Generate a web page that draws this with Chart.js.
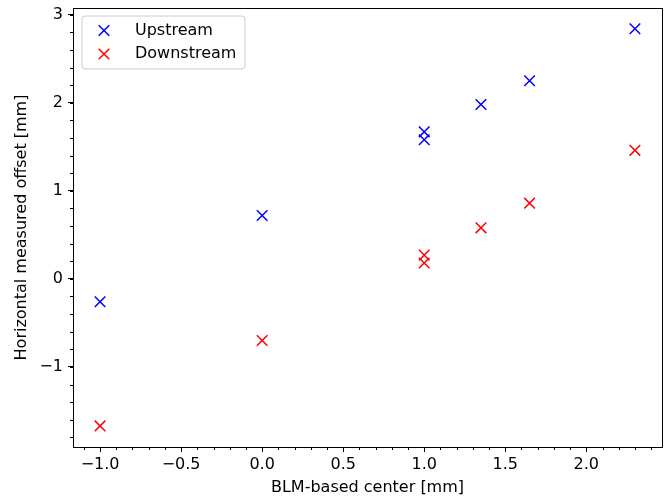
<!DOCTYPE html>
<html>
<head>
<meta charset="utf-8">
<script src="https://cdn.jsdelivr.net/npm/chart.js@4/dist/chart.umd.min.js"></script>
<style>
html,body{margin:0;padding:0;background:#fff;}
#wrap{width:664px;height:498px;position:relative;}
</style>
</head>
<body>
<div id="wrap"><canvas id="c" width="664" height="498"></canvas></div>
<script>
// Data
const blmCenter = [-1.0, 0.0, 1.0, 1.0, 1.35, 1.65, 2.3];
const upstream = [-0.26, 0.72, 1.67, 1.58, 1.98, 2.25, 2.84];
const downstream = [-1.67, -0.70, 0.27, 0.18, 0.58, 0.86, 1.46];
const seriesLabels = ['Upstream', 'Downstream'];
const xTicks = [-1.0, -0.5, 0.0, 0.5, 1.0, 1.5, 2.0];
const yTicks = [-1, 0, 1, 2, 3];
const xMinorStep = 0.1;
const yMinorStep = 0.2;
const xTitle = 'BLM-based center [mm]';
const yTitle = 'Horizontal measured offset [mm]';

const FONT = 'DejaVu Sans';
const FS = 16;
const fmt = (v, d) => { const s = Math.abs(v).toFixed(d); return (v < -1e-9 ? '\u2212' : '') + s; };
const pts = (ys) => blmCenter.map((x, i) => ({x: x, y: ys[i]}));

const frameAndMinor = {
  id: 'frameAndMinor',
  afterDraw(chart) {
    const {ctx, chartArea: a, scales: {x, y}} = chart;
    ctx.save();
    ctx.strokeStyle = '#000';
    ctx.lineWidth = 1;
    // minor ticks
    ctx.beginPath();
    for (let v = Math.ceil(x.min / xMinorStep) * xMinorStep; v <= x.max + 1e-9; v += xMinorStep) {
      const px = Math.round(x.getPixelForValue(v)) + 0.5;
      ctx.moveTo(px, a.bottom); ctx.lineTo(px, a.bottom + 3);
    }
    for (let v = Math.ceil(y.min / yMinorStep) * yMinorStep; v <= y.max + 1e-9; v += yMinorStep) {
      const py = Math.round(y.getPixelForValue(v)) + 0.5;
      ctx.moveTo(a.left, py); ctx.lineTo(a.left - 3, py);
    }
    ctx.stroke();
    // frame
    ctx.strokeRect(Math.round(a.left) + 0.5, Math.round(a.top) + 0.5, Math.round(a.right - a.left), Math.round(a.bottom - a.top));
    // legend
    const lx = 82, ly = 16, lw = 163, lh = 53, r = 3;
    ctx.beginPath();
    ctx.moveTo(lx + r, ly);
    ctx.arcTo(lx + lw, ly, lx + lw, ly + lh, r);
    ctx.arcTo(lx + lw, ly + lh, lx, ly + lh, r);
    ctx.arcTo(lx, ly + lh, lx, ly, r);
    ctx.arcTo(lx, ly, lx + lw, ly, r);
    ctx.closePath();
    ctx.fillStyle = 'rgba(255,255,255,0.8)';
    ctx.fill();
    ctx.strokeStyle = '#cccccc';
    ctx.stroke();
    chart.data.datasets.forEach((ds, i) => {
      const cy = 30.5 + i * 23.5;
      ctx.strokeStyle = ds.borderColor;
      ctx.lineWidth = 1.5;
      ctx.beginPath();
      ctx.moveTo(104 - 5.3, cy - 5.3); ctx.lineTo(104 + 5.3, cy + 5.3);
      ctx.moveTo(104 + 5.3, cy - 5.3); ctx.lineTo(104 - 5.3, cy + 5.3);
      ctx.stroke();
      ctx.fillStyle = '#000';
      ctx.font = FS + 'px "' + FONT + '"';
      ctx.textBaseline = 'middle';
      ctx.textAlign = 'left';
      ctx.fillText(ds.label, 135, cy);
    });
    ctx.restore();
  }
};

new Chart(document.getElementById('c'), {
  type: 'scatter',
  data: {
    datasets: [
      {label: seriesLabels[0], data: pts(upstream), borderColor: '#0000ff', backgroundColor: '#0000ff', pointStyle: 'crossRot', pointRadius: 7.5, pointBorderWidth: 1.5, pointHoverRadius: 7.5},
      {label: seriesLabels[1], data: pts(downstream), borderColor: '#ff0000', backgroundColor: '#ff0000', pointStyle: 'crossRot', pointRadius: 7.5, pointBorderWidth: 1.5, pointHoverRadius: 7.5}
    ]
  },
  options: {
    responsive: false,
    animation: false,
    events: [],
    layout: {autoPadding: false, padding: {left: 0, right: 2, top: 8, bottom: 0}},
    plugins: {legend: {display: false}, tooltip: {enabled: false}},
    scales: {
      x: {
        type: 'linear', min: -1.167, max: 2.467,
        afterFit: (s) => { s.height = 51; s.paddingLeft = 0; s.paddingRight = 0; },
        afterBuildTicks: (s) => { s.ticks = xTicks.map(v => ({value: v})); },
        grid: {display: true, drawOnChartArea: false, drawTicks: true, tickLength: 5, color: '#000', tickColor: '#000'},
        border: {display: true, color: '#000', width: 1},
        ticks: {color: '#000', padding: 3, maxRotation: 0, autoSkip: false, font: {family: FONT, size: FS}, callback: (v) => fmt(v, 1)},
        title: {display: true, text: xTitle, color: '#000', font: {family: FONT, size: FS}, padding: {top: 0, bottom: 1}}
      },
      y: {
        type: 'linear', min: -1.909, max: 3.076,
        afterFit: (s) => { s.width = 73; s.paddingTop = 0; s.paddingBottom = 0; },
        afterBuildTicks: (s) => { s.ticks = yTicks.map(v => ({value: v})); },
        grid: {display: true, drawOnChartArea: false, drawTicks: true, tickLength: 5, color: '#000', tickColor: '#000'},
        border: {display: true, color: '#000', width: 1},
        ticks: {color: '#000', padding: 5, autoSkip: false, font: {family: FONT, size: FS}, callback: (v) => fmt(v, 0)},
        title: {display: true, text: yTitle, color: '#000', font: {family: FONT, size: FS}, padding: {top: 12, bottom: 0}}
      }
    }
  },
  plugins: [frameAndMinor]
});
</script>
</body>
</html>
